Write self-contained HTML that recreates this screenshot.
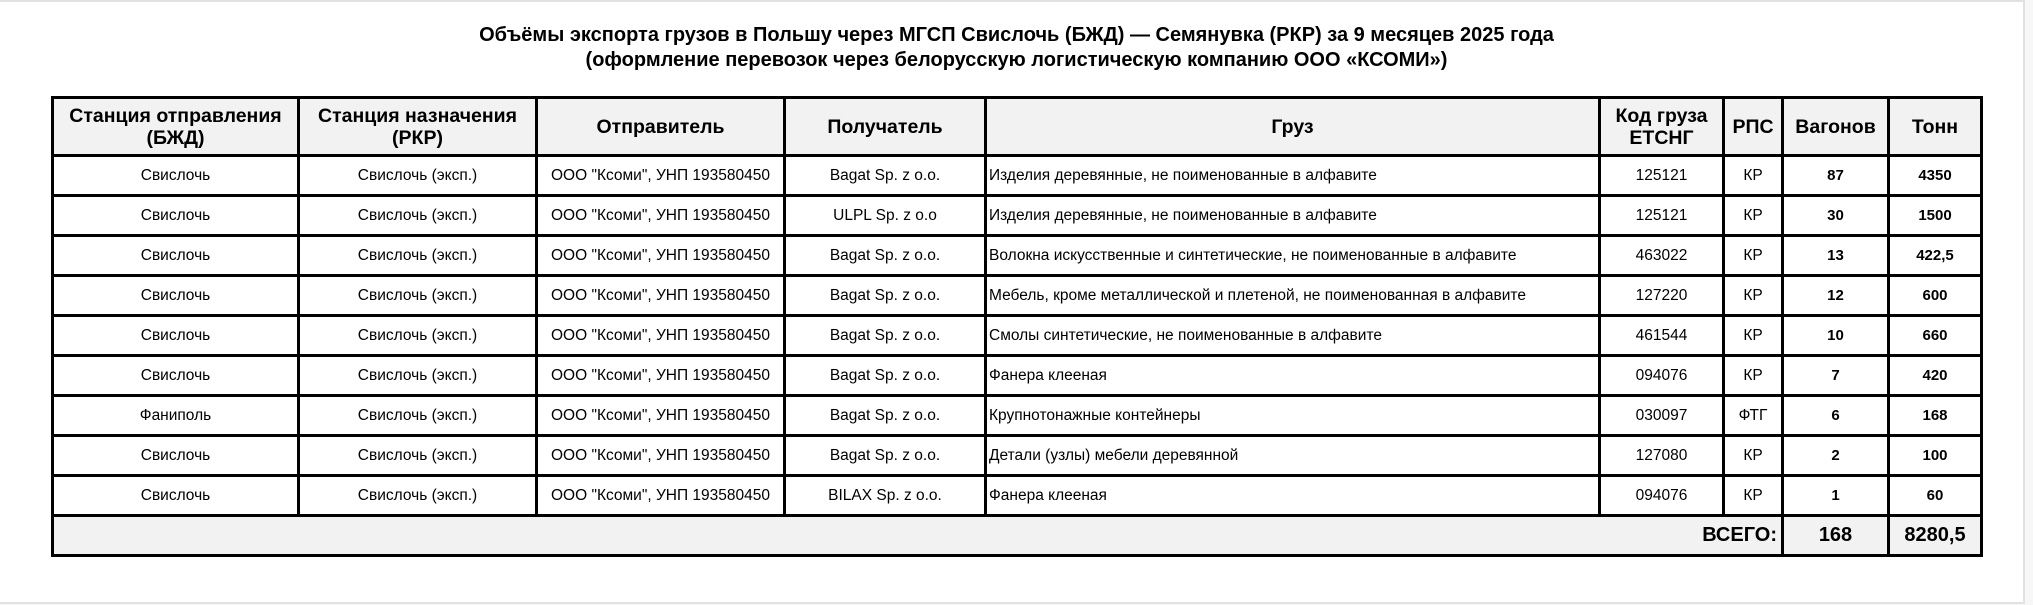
<!DOCTYPE html>
<html><head><meta charset="utf-8">
<style>
html,body{margin:0;padding:0;}
body{width:2033px;height:605px;background:#f7f7f7;position:relative;overflow:hidden;font-family:"Liberation Sans",Arial,sans-serif;color:#000;}
.panel{position:absolute;left:0;top:0;width:2025px;height:604px;background:#fff;border-top:2px solid #e2e2e2;border-right:2px solid #e2e2e2;border-bottom:2px solid #e2e2e2;box-sizing:border-box;}
.title{position:absolute;left:0;width:2033px;top:23px;text-align:center;font-weight:bold;font-size:20px;line-height:25px;}
table{position:absolute;left:51px;top:96px;border-collapse:collapse;table-layout:fixed;width:1929px;border:3px solid #000;}
td,th{border:3px solid #000;padding:0 2px;text-align:center;font-size:15.5px;overflow:hidden;white-space:nowrap;}
th{background:#f2f2f2;font-size:19.5px;line-height:22px;height:55px;white-space:nowrap;}
td{height:37px;}
td.l{text-align:left;padding-left:2px;}
td.b{font-weight:bold;font-size:15px;}
tr.tot td{background:#f2f2f2;font-weight:bold;font-size:20px;height:37px;}
tr.tot td.r{text-align:right;padding-right:4px;}
</style></head><body>
<div class="panel"></div>
<div class="title">Объёмы экспорта грузов в Польшу через МГСП Свислочь (БЖД) — Семянувка (РКР) за 9 месяцев 2025 года<br>(оформление перевозок через белорусскую логистическую компанию ООО «КСОМИ»)</div>
<table>
<colgroup><col style="width:246px"><col style="width:238px"><col style="width:248px"><col style="width:201px"><col style="width:614px"><col style="width:124px"><col style="width:59px"><col style="width:106px"><col style="width:93px"></colgroup>
<tr><th>Станция отправления<br>(БЖД)</th><th>Станция назначения<br>(РКР)</th><th>Отправитель</th><th>Получатель</th><th>Груз</th><th>Код груза<br>ЕТСНГ</th><th>РПС</th><th>Вагонов</th><th>Тонн</th></tr>
<tr><td>Свислочь</td><td>Свислочь (эксп.)</td><td>ООО "Ксоми", УНП 193580450</td><td>Bagat Sp. z o.o.</td><td class="l">Изделия деревянные, не поименованные в алфавите</td><td>125121</td><td>КР</td><td class="b">87</td><td class="b">4350</td></tr>
<tr><td>Свислочь</td><td>Свислочь (эксп.)</td><td>ООО "Ксоми", УНП 193580450</td><td>ULPL Sp. z o.o</td><td class="l">Изделия деревянные, не поименованные в алфавите</td><td>125121</td><td>КР</td><td class="b">30</td><td class="b">1500</td></tr>
<tr><td>Свислочь</td><td>Свислочь (эксп.)</td><td>ООО "Ксоми", УНП 193580450</td><td>Bagat Sp. z o.o.</td><td class="l">Волокна искусственные и синтетические, не поименованные в алфавите</td><td>463022</td><td>КР</td><td class="b">13</td><td class="b">422,5</td></tr>
<tr><td>Свислочь</td><td>Свислочь (эксп.)</td><td>ООО "Ксоми", УНП 193580450</td><td>Bagat Sp. z o.o.</td><td class="l">Мебель, кроме металлической и плетеной, не поименованная в алфавите</td><td>127220</td><td>КР</td><td class="b">12</td><td class="b">600</td></tr>
<tr><td>Свислочь</td><td>Свислочь (эксп.)</td><td>ООО "Ксоми", УНП 193580450</td><td>Bagat Sp. z o.o.</td><td class="l">Смолы синтетические, не поименованные в алфавите</td><td>461544</td><td>КР</td><td class="b">10</td><td class="b">660</td></tr>
<tr><td>Свислочь</td><td>Свислочь (эксп.)</td><td>ООО "Ксоми", УНП 193580450</td><td>Bagat Sp. z o.o.</td><td class="l">Фанера клееная</td><td>094076</td><td>КР</td><td class="b">7</td><td class="b">420</td></tr>
<tr><td>Фаниполь</td><td>Свислочь (эксп.)</td><td>ООО "Ксоми", УНП 193580450</td><td>Bagat Sp. z o.o.</td><td class="l">Крупнотонажные контейнеры</td><td>030097</td><td>ФТГ</td><td class="b">6</td><td class="b">168</td></tr>
<tr><td>Свислочь</td><td>Свислочь (эксп.)</td><td>ООО "Ксоми", УНП 193580450</td><td>Bagat Sp. z o.o.</td><td class="l">Детали (узлы) мебели деревянной</td><td>127080</td><td>КР</td><td class="b">2</td><td class="b">100</td></tr>
<tr><td>Свислочь</td><td>Свислочь (эксп.)</td><td>ООО "Ксоми", УНП 193580450</td><td>BILAX Sp. z o.o.</td><td class="l">Фанера клееная</td><td>094076</td><td>КР</td><td class="b">1</td><td class="b">60</td></tr>
<tr class="tot"><td colspan="7" class="r">ВСЕГО:</td><td>168</td><td>8280,5</td></tr>
</table>
</body></html>
